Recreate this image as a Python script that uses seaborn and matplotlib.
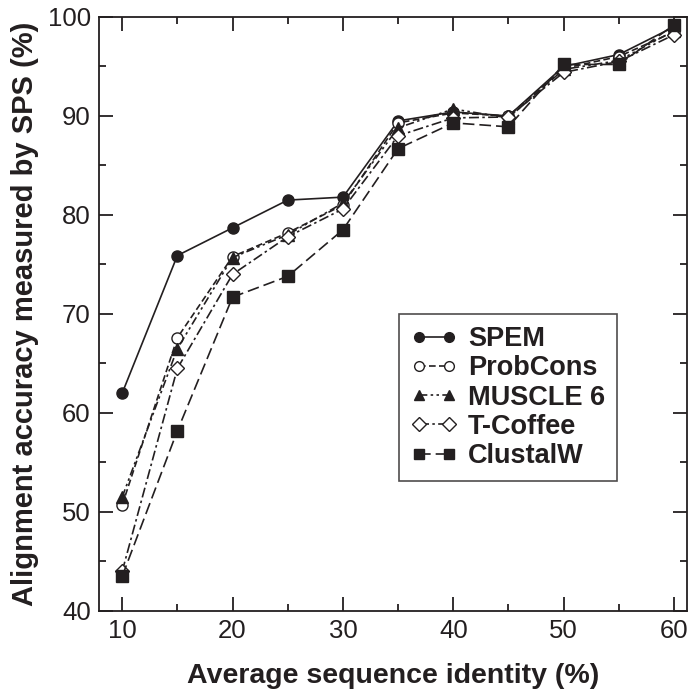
import numpy as np
import pandas as pd
import matplotlib
matplotlib.use("Agg")
import matplotlib.pyplot as plt
import seaborn as sns
from matplotlib.ticker import MultipleLocator

identity = [10, 15, 20, 25, 30, 35, 40, 45, 50, 55, 60]

spem = [62.0, 75.9, 78.7, 81.5, 81.8, 89.5, 90.4, 90.0, 95.0, 96.2, 99.0]
probcons = [50.7, 67.6, 75.8, 78.2, 81.0, 89.3, 90.3, 90.0, 94.8, 96.0, 98.5]
muscle = [51.5, 66.5, 75.7, 78.0, 81.2, 88.8, 90.7, 89.8, 94.7, 95.6, 98.6]
tcoffee = [44.0, 64.5, 74.0, 77.8, 80.6, 88.0, 89.8, 89.9, 94.4, 95.5, 98.2]
clustalw = [43.5, 58.2, 71.7, 73.8, 78.5, 86.7, 89.3, 88.9, 95.2, 95.2, 99.2]

methods = ["SPEM", "ProbCons", "MUSCLE 6", "T-Coffee", "ClustalW"]
series = [spem, probcons, muscle, tcoffee, clustalw]

ink = "#231f20"

# marker, filled?, line style
styles = {
    "SPEM": ("o", True, "-"),
    "ProbCons": ("o", False, (0, (4, 2))),
    "MUSCLE 6": ("^", True, (0, (5, 2, 1.5, 2, 1.5, 2))),
    "T-Coffee": ("D", False, (0, (6, 2, 1.5, 2))),
    "ClustalW": ("s", True, (0, (7, 3))),
}

sns.set_style("ticks")
plt.rcParams["font.family"] = ["Liberation Sans Narrow", "Liberation Sans", "DejaVu Sans"]

fig = plt.figure(figsize=(6.88, 6.94), dpi=100)
ax = fig.add_axes([0.1439, 0.1196, 0.855, 0.856])

for name, vals in zip(methods, series):
    df = pd.DataFrame({"x": identity, "y": vals})
    marker, filled, ls = styles[name]
    ms = 8 if marker != "D" else 7.5
    if marker == "s":
        ms = 9
    sns.lineplot(data=df, x="x", y="y", ax=ax, color=ink, linewidth=1.2,
                 linestyle=ls, marker=marker, markersize=ms,
                 markerfacecolor=ink if filled else "white",
                 markeredgecolor=ink, markeredgewidth=1.0, label=name,
                 legend=False)

ax.set_xlim(7.9, 61.2)
ax.set_ylim(40, 100)
ax.xaxis.set_major_locator(MultipleLocator(10))
ax.xaxis.set_minor_locator(MultipleLocator(5))
ax.yaxis.set_major_locator(MultipleLocator(10))
ax.yaxis.set_minor_locator(MultipleLocator(5))
ax.tick_params(which="both", direction="in", top=True, right=True,
               color=ink, width=1.3, labelcolor=ink, labelsize=18.5, pad=6)
ax.tick_params(which="major", length=10)
ax.tick_params(which="minor", length=5)
for sp in ax.spines.values():
    sp.set_linewidth(1.3)
    sp.set_color(ink)

ax.set_xlabel("Average sequence identity (%)", fontsize=20.5, fontweight="bold",
              color=ink, family=["Liberation Sans", "DejaVu Sans"], labelpad=14)
ax.set_ylabel("Alignment accuracy measured by SPS (%)", fontsize=21,
              fontweight="bold", color=ink,
              family=["Liberation Sans", "DejaVu Sans"], labelpad=6)

leg = ax.legend(loc="upper left", bbox_to_anchor=(0.51, 0.50), borderaxespad=0,
                frameon=True, fancybox=False, edgecolor=ink, numpoints=2,
                handlelength=1.7, handletextpad=0.4, labelspacing=0.12,
                borderpad=0.45,
                prop={"family": ["Liberation Sans", "DejaVu Sans"],
                      "weight": "bold", "size": 19.5})
leg.get_frame().set_linewidth(1.2)
for t in leg.get_texts():
    t.set_color(ink)
for h in leg.legend_handles:
    h.set_markersize(7)

fig.savefig("out.png", dpi=100)
